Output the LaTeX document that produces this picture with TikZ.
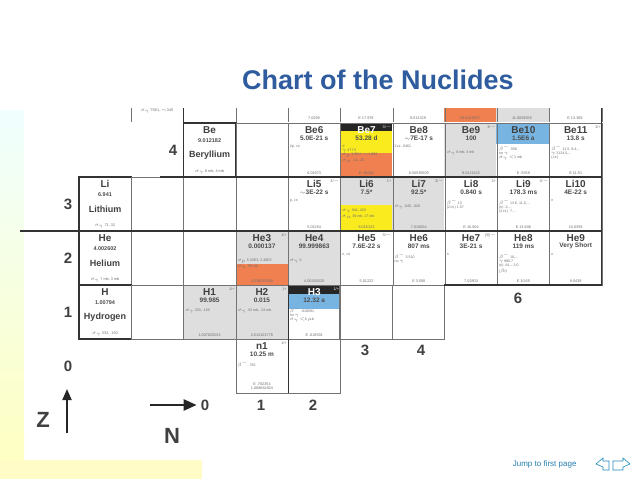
\documentclass[tikz,border=0pt]{standalone}
\usepackage{fontspec}
\setmainfont{Liberation Sans}
\usetikzlibrary{arrows.meta}
\definecolor{titleblue}{RGB}{46,92,158}
\definecolor{nucgray}{RGB}{222,222,222}
\definecolor{nucorange}{RGB}{240,128,80}
\definecolor{nucyellow}{RGB}{250,235,30}
\definecolor{nucblue}{RGB}{120,180,225}
\definecolor{inkgray}{RGB}{110,110,110}
\tikzset{
  nucname/.style={font=\fontsize{10}{10}\selectfont\bfseries, text=black!75, inner sep=0pt},
  nucval/.style={font=\fontsize{6.5}{7}\selectfont\bfseries, text=black!70, inner sep=0pt},
  nucsmall/.style={font=\fontsize{3.6}{4.2}\selectfont, text=inkgray, inner sep=0pt, align=left},
  nucmass/.style={font=\fontsize{3.8}{4}\selectfont, text=inkgray, inner sep=0pt},
  nucspin/.style={font=\fontsize{3.8}{4}\selectfont, text=inkgray, inner sep=0pt},
  axislabel/.style={font=\fontsize{15}{15}\selectfont\bfseries, text=black!75, inner sep=0pt},
  cellline/.style={draw=black!55, line width=0.5pt},
  boxline/.style={draw=black!80, line width=1.4pt},
  nuc Be7/.style={text=white},
  nuc H3/.style={text=white}
}
% #1 column, #2 Z, #3 name, #4 value, #5 spin, #6 small text, #7 mass
\newcommand\nuc[7]{%
  \pgfmathsetmacro\xl{79+52.3*#1}\pgfmathsetmacro\yt{339-54*#2}
  \draw[cellline] (\xl,\yt) rectangle ++(52.3,54);
  \node[nucname, nuc #3/.try] (#3) at (\xl+26,\yt+7) {#3};
  \node[nucval] (#3v) at (\xl+26,\yt+15) {#4};
  \node[nucspin, nuc #3/.try, anchor=east] (#3s) at (\xl+51,\yt+4) {#5};
  \node[nucsmall,anchor=north west] (#3t) at (\xl+1.5,\yt+22) {#6};
  \node[nucmass] (#3m) at (\xl+26,\yt+50) {#7};
}
% #1 column, #2 Z, #3 symbol, #4 weight, #5 element, #6 cross section
\newcommand\elem[6]{%
  \pgfmathsetmacro\xl{79+52.3*#1}\pgfmathsetmacro\yt{339-54*#2}
  \draw[boxline] (\xl,\yt) rectangle ++(52.3,54);
  \node[nucname] (#3) at (\xl+26,\yt+7) {#3};
  \node[nucval,font=\fontsize{5.5}{6}\selectfont\bfseries] (#3w) at (\xl+26,\yt+18) {#4};
  \node[nucname,font=\fontsize{9}{9}\selectfont\bfseries] (#3e) at (\xl+26,\yt+32) {#5};
  \node[nucmass] (#3c) at (\xl+26,\yt+49) {#6};
}
\begin{document}
\begin{tikzpicture}[x=1pt,y=-1pt]
\useasboundingbox (0,0) rectangle (638,479);
\fill[white] (0,0) rectangle (638,479);

% page background
\shade[top color=cyan!6, bottom color=yellow!25] (0,110) rectangle (24,479);
\fill[yellow!22] (0,460) rectangle (202,479);

\node[font=\fontsize{27}{27}\selectfont\bfseries, text=titleblue] (title) at (378,80) {Chart of the Nuclides};

% colour fields
\fill[nucorange] (444.1,108) rectangle (496.4,122);
\fill[nucgray] (496.4,108) rectangle (548.7,122);
\fill[black!85] (339.5,123) rectangle (391.8,131);
\fill[nucyellow] (391.8,131) rectangle (339.5,153);
\fill[nucorange] (339.5,153) rectangle (391.8,177);
\fill[nucgray] (444.1,123) rectangle (496.4,177);
\fill[nucblue] (496.4,123) rectangle (548.7,144);
\fill[nucgray] (339.5,177) rectangle (391.8,205);
\fill[nucyellow] (339.5,205) rectangle (391.8,231);
\fill[nucgray] (391.8,177) rectangle (444.1,231);
\fill[nucgray] (235.9,231) rectangle (288.2,264);
\fill[nucorange] (235.9,264) rectangle (288.2,285);
\fill[nucgray] (288.2,231) rectangle (339.5,285);
\fill[nucgray] (183.6,285) rectangle (288.2,339);
\fill[black!85] (288.2,285) rectangle (339.5,294);
\fill[nucblue] (288.2,294) rectangle (339.5,309);

% strip of the row above
\draw[cellline] (131.3,108) -- (131.3,122);
\draw[cellline] (235.9,108) -- (235.9,122);
\foreach \c in {4,...,10}
  \draw[cellline] (79+52.3*\c,108) -- (79+52.3*\c,122);
\node[nucmass] (b0) at (157,111) {$\sigma_\gamma$ 75E1, $\sim$345};
\node[nucmass] (b4) at (314,118) {7.0299};
\node[nucmass] (b5) at (366,118) {E 17.979};
\node[nucmass] (b6) at (418,118) {9.013329};
\node[nucmass] (b7) at (470,118) {10.0129371};
\node[nucmass] (b8) at (522,118) {11.0093055};
\node[nucmass] (b9) at (575,118) {E 13.369};

% Z = 4
\elem{2}{4}{Be}{9.012182}{Beryllium}{$\sigma_\gamma$ 8 mb, 4 mb}
\draw[cellline] (235.9,123) rectangle ++(52.3,54);
\nuc{4}{4}{Be6}{5.0E-21 s}{}{2p, $\alpha$}{6.01973}
\nuc{5}{4}{Be7}{53.28 d}{3/$-$}{$\varepsilon$\\$\gamma$ 477.6\\$\sigma_p$ 3.9E4, $\sim$1.8E4\\$\sigma_\alpha$ .14, .26}{E .86182}
\nuc{6}{4}{Be8}{$\sim$7E-17 s}{}{2$\alpha$ .0461}{8.00530509}
\nuc{7}{4}{Be9}{100}{3/$-$}{\\\\$\sigma_\gamma$ 8 mb, 4 mb}{9.0121822}
\nuc{8}{4}{Be10}{1.5E6 a}{}{$\beta^-$ .556\\no $\gamma$\\$\sigma_\gamma$ $<$1 mb}{E .5559}
\nuc{9}{4}{Be11}{13.8 s}{1/+}{$\beta^-$ 11.5, 9.4,...\\$\gamma$ 2124.5,...\\($\alpha$)}{E 11.51}

% Z = 3
\elem{0}{3}{Li}{6.941}{Lithium}{$\sigma_\gamma$ 71, 32}
\draw[cellline] (131.3,177) rectangle ++(52.3,54);
\draw[cellline] (183.6,177) rectangle ++(52.3,54);
\draw[cellline] (235.9,177) rectangle ++(52.3,54);
\nuc{4}{3}{Li5}{$\sim$3E-22 s}{3/$-$}{p, $\alpha$}{5.01254}
\nuc{5}{3}{Li6}{7.5*}{1+}{\\\\\\$\sigma_\gamma$ 941, 423\\$\sigma_\alpha$ 39 mb, 17 mb}{6.015122}
\nuc{6}{3}{Li7}{92.5*}{3/$-$}{\\\\$\sigma_\gamma$ .045, .020}{7.016004}
\nuc{7}{3}{Li8}{0.840 s}{2+}{$\beta^-$ 13\\(2$\alpha$) 1.57}{E 16.004}
\nuc{8}{3}{Li9}{178.3 ms}{3/$-$}{$\beta^-$ 13.6, 11.0,...\\(n) .3,...\\(2$\alpha$) .7,...}{E 13.606}
\nuc{9}{3}{Li10}{4E-22 s}{}{n}{10.0359}

% Z = 2
\elem{0}{2}{He}{4.002602}{Helium}{$\sigma_\gamma$ 7 mb, 3 mb}
\draw[cellline] (131.3,231) rectangle ++(52.3,54);
\draw[cellline] (183.6,231) rectangle ++(52.3,54);
\nuc{3}{2}{He3}{0.000137}{1/+}{\\\\$\sigma_p$ 5.33E3, 2.40E3\\$\sigma_\gamma$ .05 mb}{3.016029309}
\nuc{4}{2}{He4}{99.999863}{}{\\\\$\sigma_\gamma$ 0}{4.00260325}
\nuc{5}{2}{He5}{7.6E-22 s}{3/$-$}{n, $\alpha$}{5.01222}
\nuc{6}{2}{He6}{807 ms}{}{$\beta^-$ 3.510\\no $\gamma$}{E 3.508}
\nuc{7}{2}{He7}{3E-21 s}{(3/)$-$}{n}{7.02803}
\nuc{8}{2}{He8}{119 ms}{}{$\beta^-$ 10,...\\$\gamma$ 980.7\\(n) .81 -- 3.0\\($\beta$t)}{E 10.65}
\nuc{9}{2}{He9}{Very Short}{}{n}{9.0439}

% Z = 1
\elem{0}{1}{H}{1.00794}{Hydrogen}{$\sigma_\gamma$ 333, .150}
\draw[cellline] (131.3,285) rectangle ++(52.3,54);
\nuc{2}{1}{H1}{99.985}{1/+}{\\$\sigma_\gamma$ 333, .150}{1.007825032}
\nuc{3}{1}{H2}{0.015}{1+}{\\$\sigma_\gamma$ .52 mb, .23 mb}{2.014101778}
\nuc{4}{1}{H3}{12.32 a}{1/+}{$\beta^-$ .018591\\no $\gamma$\\$\sigma_\gamma$ $<$6 $\mu$b}{E .018591}
\draw[cellline] (339.5,285) rectangle ++(52.3,54);
\draw[cellline] (391.8,285) rectangle ++(52.3,54);

% Z = 0
\nuc{3}{0}{n1}{10.25 m}{1/+}{$\beta^-$ .782}{}
\node[nucmass,align=center] (n1m2) at (262,386) {E .782354\\1.008664924};
\draw[cellline] (288.2,339) rectangle ++(52.3,54);
\draw[black!80, line width=1.2pt] (288.2,285) -- (288.2,393);

% thick dividing lines
\draw[black!80, line width=1.2pt] (20,231) -- (601.7,231);
\draw[black!80, line width=1.2pt] (160,177) -- (601.7,177);
\draw[black!80, line width=1.2pt] (601.7,108) -- (601.7,285) -- (444.1,285);
\draw[black!80, line width=1.2pt] (183.6,108) -- (183.6,177);

% labels of Z and N
\node[axislabel] (z4) at (173,150) {4};
\node[axislabel] (z3) at (68,204) {3};
\node[axislabel] (z2) at (68,258) {2};
\node[axislabel] (z1) at (68,312) {1};
\node[axislabel] (z0) at (68,366) {0};
\node[axislabel] (n0) at (205,405) {0};
\node[axislabel] (n1l) at (261,405) {1};
\node[axislabel] (n2) at (313,405) {2};
\node[axislabel] (n3) at (365,350) {3};
\node[axislabel] (n4) at (421,350) {4};
\node[axislabel] (n6) at (518,298) {6};

% axes
\node[axislabel,font=\fontsize{22}{22}\selectfont\bfseries] (Z) at (43,420) {Z};
\coordinate (zfoot) at (67,433);
\coordinate (ztip) at (67,389);
\draw[black!85, line width=2pt, -{Triangle[length=11pt,width=9pt]}] (zfoot) -- (ztip);
\node[axislabel,font=\fontsize{22}{22}\selectfont\bfseries] (N) at (172,436) {N};
\coordinate (nfoot) at (150,405);
\draw[black!85, line width=2.5pt, -{Triangle[length=13pt,width=11pt]}] (nfoot) -- ([xshift=-4pt]n0.west);

% footer
\node[font=\fontsize{8}{8}\selectfont, text=titleblue!80!cyan, anchor=east] (jump) at (580,464) {Jump to first page};
\draw[titleblue!70!cyan, line width=0.6pt] (596,464) -- (603,458) -- (603,461) -- (609,461) -- (609,470) -- (603,470) -- (603,467) -- (596,464);
\draw[titleblue!70!cyan, line width=0.6pt] (630,464) -- (623,458) -- (623,461) -- (613,461) -- (613,470) -- (623,470) -- (623,467) -- (630,464);
\end{tikzpicture}
\end{document}
